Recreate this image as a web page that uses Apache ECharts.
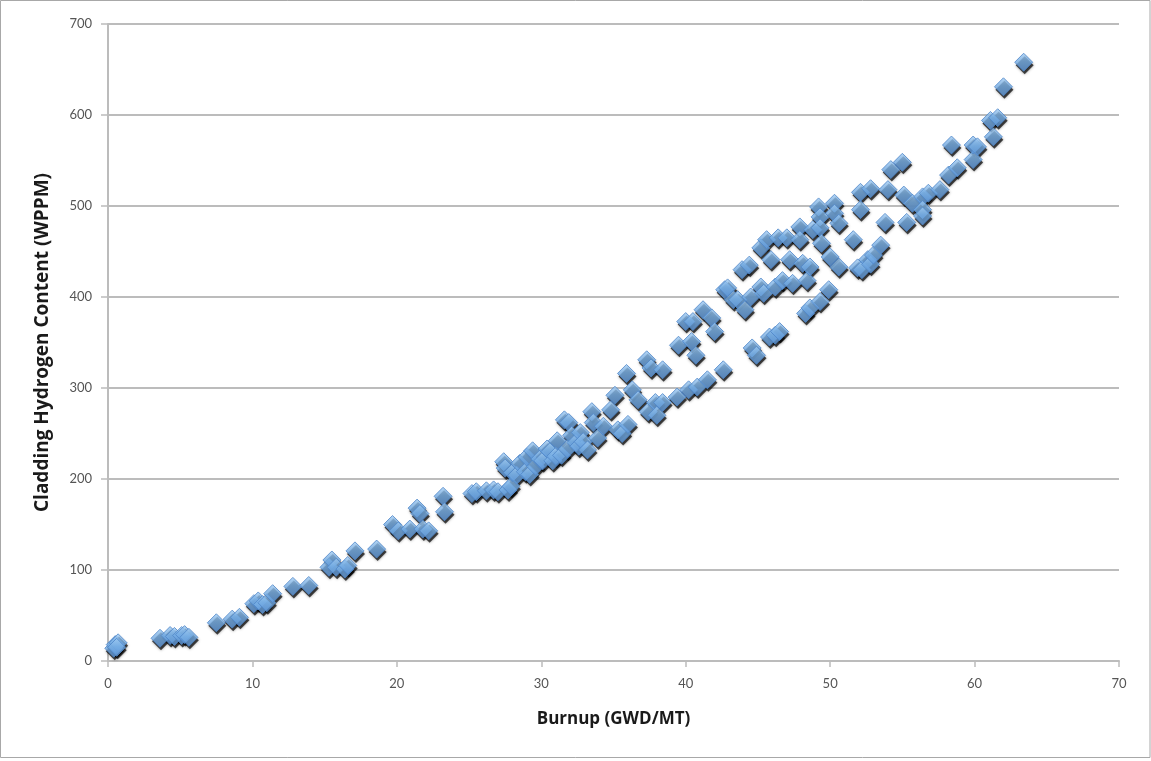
<!DOCTYPE html>
<html>
<head>
<meta charset="utf-8">
<script src="https://cdn.jsdelivr.net/npm/echarts@6/dist/echarts.min.js"></script>
<style>
  html, body { margin: 0; padding: 0; background: #ffffff; }
  #chart { width: 1151px; height: 761px; }
</style>
</head>
<body>
<div id="chart"></div>
<script>
// Burnup (GWD/MT) and cladding hydrogen content (WPPM), one pair per rod sample
const burnup = [
  0.4, 0.5, 0.7, 0.6,
  3.6, 4.3, 4.6, 5.1, 5.3, 5.6,
  7.5, 8.6, 9.1,
  10.1, 10.4, 10.7, 11.0, 11.4,
  12.8, 13.9,
  15.3, 15.5, 15.8, 16.4, 16.6, 17.1, 18.6,
  19.7, 20.1, 20.9, 21.4, 21.6, 21.8, 22.2,
  23.2, 23.3,
  25.2, 25.5, 26.2, 26.7, 27.0, 27.4, 27.5, 27.7, 27.9,
  28.0, 28.3, 28.5, 28.9, 29.0, 29.2, 29.4, 29.6, 29.9, 30.1, 30.4, 30.6, 30.8, 31.0, 31.1, 31.4, 31.6, 31.8, 31.9,
  32.1, 32.4, 32.6, 32.7, 32.9, 33.2, 33.5, 33.6, 33.9, 34.3, 34.8, 35.1, 35.3, 35.6, 35.9, 36.0, 36.3, 36.7,
  37.3, 37.4, 37.6, 37.9, 38.0, 38.4, 38.4, 39.4, 39.5, 40.0, 40.2, 40.4, 40.7, 40.5, 40.8,
  41.2, 41.5, 41.8, 42.0, 42.6, 42.7, 42.9, 43.3, 43.6, 43.9, 44.1, 44.4, 44.5, 44.6, 44.9,
  45.2, 45.2, 45.4, 45.6, 45.8, 45.9, 46.2, 46.2, 46.4, 46.5, 46.7, 47.0, 47.2, 47.4,
  47.9, 47.9, 48.1, 48.3, 48.4, 48.6, 48.6, 48.8, 49.2, 49.3, 49.3, 49.3, 49.4, 49.9, 50.0,
  50.3, 50.3, 50.6, 50.6, 51.6, 51.9, 52.1, 52.1, 52.2, 52.6, 52.8, 52.8, 53.0, 53.5, 53.8,
  54.0, 54.2, 55.0, 55.1, 55.3, 55.7, 56.4, 56.4, 56.4, 56.8, 57.6, 58.2, 58.4, 58.8,
  59.9, 59.9, 60.2, 61.1, 61.3, 61.6, 62.0, 63.4
];
const hydrogen = [
  14, 18, 20, 15,
  25, 28, 27, 28, 29, 26,
  42, 46, 48,
  63, 66, 62, 64, 74,
  82, 83,
  103, 111, 103, 101, 105, 121, 123,
  150, 143, 145, 168, 162, 145, 143,
  181, 164,
  184, 186, 187, 188, 186, 219, 212, 188, 192,
  207, 204, 217, 208, 224, 205, 231, 214, 222, 220, 233, 230, 220, 225, 242, 226, 265, 233, 262,
  248, 240, 236, 251, 241, 232, 274, 262, 245, 258, 276, 292, 254, 250, 316, 260, 298, 287,
  331, 274, 322, 284, 270, 320, 284, 290, 347, 373, 298, 351, 336, 373, 301,
  386, 309, 377, 362, 320, 408, 410, 397, 397, 430, 386, 435, 400, 344, 336,
  411, 454, 404, 463, 356, 441, 411, 358, 465, 362, 418, 465, 441, 415,
  477, 463, 437, 382, 418, 388, 433, 474, 499, 488, 476, 395, 459, 408, 444,
  503, 492, 481, 433, 463, 432, 496, 515, 430, 441, 519, 436, 446, 457, 482,
  518, 540, 548, 512, 482, 503, 510, 496, 489, 514, 518, 534, 567, 542,
  551, 567, 565, 594, 576, 597, 631, 658
];

// Axis ranges and tick steps
const xMin = 0, xMax = 70, xStep = 10;
const yMin = 0, yMax = 700, yStep = 100;

const points = burnup.map((b, i) => [b, hydrogen[i]]);

const chart = echarts.init(document.getElementById('chart'), null, { renderer: 'canvas' });

const axisFont = 'Lato, "Open Sans", sans-serif';
const titleFont = '"Open Sans", "Noto Sans", sans-serif';
const gridGray = '#bcbcbc';
const markerSize = 18;

chart.setOption({
  animation: false,
  backgroundColor: '#ffffff',
  graphic: [{
    type: 'rect',
    shape: { x: 0.5, y: 0.5, width: 1149.5, height: 757 },
    style: { fill: 'none', stroke: '#a8a8a8', lineWidth: 1 },
    silent: true,
    z: 100
  }],
  grid: { left: 108, right: 32, top: 24, bottom: 100, containLabel: false },
  xAxis: {
    type: 'value',
    min: xMin, max: xMax, interval: xStep,
    name: 'Burnup (GWD/MT)',
    nameLocation: 'middle',
    nameGap: 50,
    nameTextStyle: { fontFamily: titleFont, fontWeight: 'bold', fontSize: 17, color: '#1a1a1a' },
    axisLine: { show: true, lineStyle: { color: gridGray, width: 2 } },
    axisTick: { show: true, length: 6, lineStyle: { color: gridGray, width: 1.5 } },
    axisLabel: { margin: 16, fontFamily: axisFont, fontSize: 13, color: '#555555' },
    splitLine: { show: false }
  },
  yAxis: {
    type: 'value',
    min: yMin, max: yMax, interval: yStep,
    name: 'Cladding Hydrogen Content (WPPM)',
    nameLocation: 'middle',
    nameGap: 56,
    nameRotate: 90,
    nameTextStyle: { fontFamily: titleFont, fontWeight: 'bold', fontSize: 19, color: '#1a1a1a' },
    axisLine: { show: true, lineStyle: { color: gridGray, width: 2 } },
    axisTick: { show: true, length: 7, lineStyle: { color: gridGray, width: 1.5 } },
    axisLabel: { margin: 16, fontFamily: axisFont, fontSize: 13, color: '#555555' },
    splitLine: { show: true, lineStyle: { color: gridGray, width: 2 } }
  },
  series: [
    {
      // drop shadow under each diamond
      type: 'scatter',
      data: points,
      symbol: 'diamond',
      symbolSize: [markerSize, markerSize],
      symbolOffset: [1, 3],
      silent: true,
      z: 2,
      itemStyle: {
        color: 'rgba(0,0,0,0.85)',
        shadowColor: 'rgba(0,0,0,0.6)',
        shadowBlur: 3
      },
      emphasis: { disabled: true }
    },
    {
      type: 'scatter',
      data: points,
      symbol: 'diamond',
      symbolSize: [markerSize, markerSize],
      z: 3,
      itemStyle: {
        color: {
          type: 'linear', x: 0, y: 0, x2: 0, y2: 1,
          colorStops: [
            { offset: 0, color: '#a3cdf3' },
            { offset: 0.45, color: '#78afe5' },
            { offset: 1, color: '#5f98da' }
          ]
        },
        borderColor: '#4f86c8',
        borderWidth: 1
      },
      emphasis: { disabled: true }
    }
  ]
});
</script>
</body>
</html>
